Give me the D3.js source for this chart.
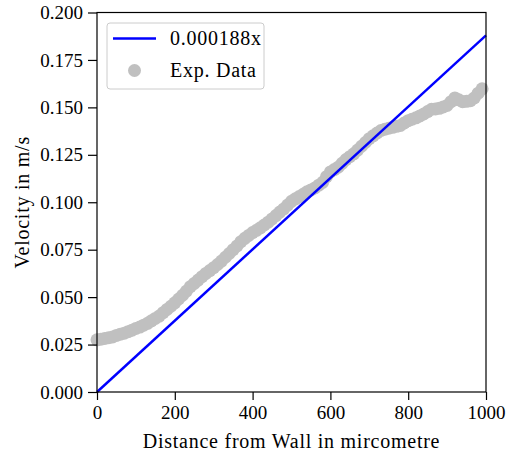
<!DOCTYPE html>
<html>
<head>
<meta charset="utf-8">
<script src="https://cdn.jsdelivr.net/npm/d3@7"></script>
<style>
  body { margin: 0; background: #fff; }
  svg { display: block; }
  .axis text { font-family: "Palatino Linotype", Palatino, "Liberation Serif", serif; font-size: 19px; fill: #000; }
  .lbl { font-family: "Palatino Linotype", Palatino, "Liberation Serif", serif; font-size: 20px; letter-spacing: 0.75px; fill: #000; }
</style>
</head>
<body>
<div id="content"></div>
<script>
// measured velocity profile (distance in micrometre, velocity in m/s)
var distance = [0, 10, 20, 30, 40, 50, 60, 70, 80, 90,
                100, 110, 120, 130, 140, 150, 160, 170, 180, 190,
                200, 210, 220, 230, 240, 250, 260, 270, 280, 290,
                300, 310, 320, 330, 340, 350, 360, 370, 380, 390,
                400, 410, 420, 430, 440, 450, 460, 470, 480, 490,
                500, 510, 520, 530, 540, 550, 560, 570, 580, 590,
                600, 610, 620, 630, 640, 650, 660, 670, 680, 690,
                700, 710, 720, 730, 740, 750, 760, 770, 780, 790,
                800, 810, 820, 830, 840, 850, 860, 870, 880, 890,
                900, 910, 920, 930, 940, 950, 960, 970, 980, 990];
var velocity = [0.0275, 0.0278, 0.0282, 0.0286, 0.0290, 0.0298, 0.0305, 0.0310, 0.0318, 0.0326,
                0.0335, 0.0342, 0.0352, 0.0362, 0.0375, 0.0388, 0.0400, 0.0418, 0.0435, 0.0452,
                0.0470, 0.0490, 0.0510, 0.0532, 0.0555, 0.0572, 0.0590, 0.0608, 0.0625, 0.0640,
                0.0655, 0.0672, 0.0690, 0.0710, 0.0730, 0.0750, 0.0770, 0.0792, 0.0810, 0.0825,
                0.0840, 0.0852, 0.0865, 0.0880, 0.0895, 0.0912, 0.0930, 0.0948, 0.0965, 0.0985,
                0.1005, 0.1018, 0.1030, 0.1042, 0.1055, 0.1065, 0.1075, 0.1090, 0.1105, 0.1135,
                0.1160, 0.1172, 0.1185, 0.1205, 0.1225, 0.1240, 0.1255, 0.1275, 0.1295, 0.1315,
                0.1335, 0.1350, 0.1365, 0.1378, 0.1385, 0.1390, 0.1395, 0.1400, 0.1405, 0.1418,
                0.1430, 0.1438, 0.1445, 0.1455, 0.1465, 0.1478, 0.1490, 0.1492, 0.1495, 0.1502,
                0.1510, 0.1530, 0.1550, 0.1540, 0.1530, 0.1532, 0.1535, 0.1550, 0.1575, 0.1598];
var slope = 0.000188;
var fitX = [0, 1000];
var xTicks = [0, 200, 400, 600, 800, 1000];
var yTicks = [0, 0.025, 0.05, 0.075, 0.1, 0.125, 0.15, 0.175, 0.2];

var W = 506, H = 457;
var margin = {top: 12.5, right: 20, bottom: 65, left: 97};
var width = W - margin.left - margin.right;
var height = H - margin.top - margin.bottom;

var svg = d3.select('#content').append('svg')
  .attr('width', W)
  .attr('height', H);

var g = svg.append('g')
  .attr('transform', 'translate(' + margin.left + ',' + margin.top + ')');

var x_scale = d3.scaleLinear().domain([0, 1000]).range([0, width]);
var y_scale = d3.scaleLinear().domain([0, 0.2]).range([height, 0]);

// scatter of experiment data
g.selectAll('circle.pt')
  .data(distance)
  .enter()
  .append('circle')
  .attr('class', 'pt')
  .attr('cx', function(d) { return x_scale(d); })
  .attr('cy', function(d, i) { return y_scale(velocity[i]); })
  .attr('r', 6.5)
  .attr('fill', '#c0c0c0');

// linear fit
g.append('path')
  .datum(fitX)
  .attr('fill', 'none')
  .attr('stroke', '#0000ff')
  .attr('stroke-width', 2.4)
  .attr('d', d3.line()
    .x(function(d) { return x_scale(d); })
    .y(function(d) { return y_scale(slope * d); }));

// frame
g.append('rect')
  .attr('width', width)
  .attr('height', height)
  .attr('fill', 'none')
  .attr('stroke', '#000')
  .attr('stroke-width', 1.2);

g.append('g')
  .attr('class', 'axis')
  .attr('transform', 'translate(0,' + height + ')')
  .call(d3.axisBottom(x_scale).tickValues(xTicks).tickSize(8).tickPadding(6).tickFormat(d3.format('d')));

g.append('g')
  .attr('class', 'axis')
  .call(d3.axisLeft(y_scale).tickValues(yTicks).tickSize(9).tickPadding(5).tickFormat(d3.format('.3f')));

g.selectAll('.axis .domain').remove();
g.selectAll('.axis line').attr('stroke', '#000').attr('stroke-width', 1.2);

// axis labels
svg.append('text')
  .attr('class', 'lbl')
  .attr('x', margin.left + width / 2)
  .attr('y', 448)
  .attr('text-anchor', 'middle')
  .text('Distance from Wall in mircometre');

svg.append('text')
  .attr('class', 'lbl')
  .attr('transform', 'translate(29,' + (margin.top + height / 2) + ') rotate(-90)')
  .attr('text-anchor', 'middle')
  .text('Velocity in m/s');

// legend
var leg = svg.append('g');
leg.append('rect')
  .attr('x', 107).attr('y', 23)
  .attr('width', 157).attr('height', 66)
  .attr('rx', 3)
  .attr('fill', '#fff').attr('fill-opacity', 0.8)
  .attr('stroke', '#cccccc');
leg.append('line')
  .attr('x1', 113).attr('x2', 156)
  .attr('y1', 38.5).attr('y2', 38.5)
  .attr('stroke', '#0000ff').attr('stroke-width', 2.4);
leg.append('text').attr('class', 'lbl')
  .attr('x', 170).attr('y', 45)
  .text('0.000188x');
leg.append('circle')
  .attr('cx', 134.5).attr('cy', 70.5).attr('r', 6.5)
  .attr('fill', '#c0c0c0');
leg.append('text').attr('class', 'lbl')
  .attr('x', 170).attr('y', 77)
  .text('Exp. Data');
</script>
</body>
</html>
